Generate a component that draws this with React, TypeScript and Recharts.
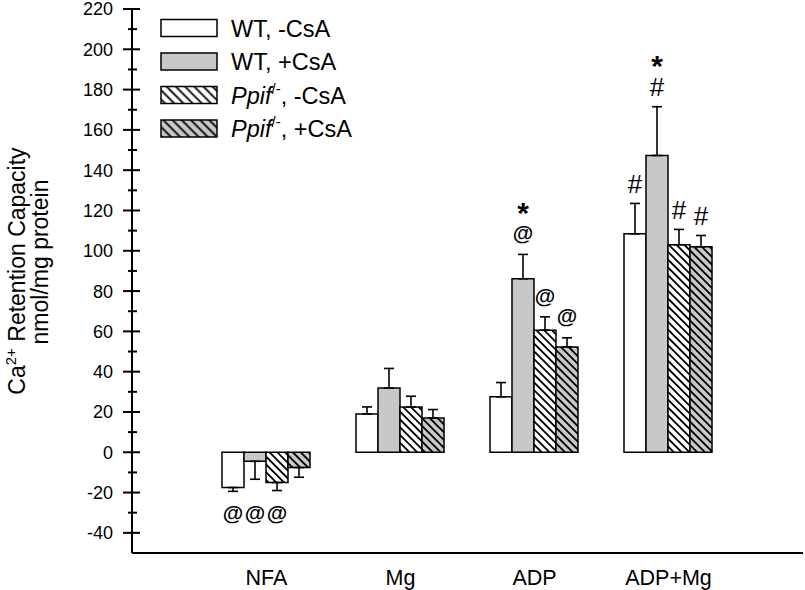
import React from 'react';
import { BarChart, Bar, XAxis, YAxis, ErrorBar, LabelList, Legend } from 'recharts';

const FONT = '"Liberation Sans", Arial, Helvetica, sans-serif';

const groups = ['NFA', 'Mg', 'ADP', 'ADP+Mg'];

const wtVals = [-17.5, 19.0, 27.5, 108.4];
const wtErr = [1.9, 3.5, 7.1, 15.1];
const wtCsaVals = [-4.5, 31.9, 86.1, 147.3];
const wtCsaErr = [8.9, 9.7, 12.1, 24.2];
const koVals = [-15.0, 22.5, 60.6, 103.0];
const koErr = [4.0, 5.3, 6.6, 7.6];
const koCsaVals = [-7.6, 17.0, 52.3, 102.0];
const koCsaErr = [4.8, 4.2, 4.5, 5.6];

// significance marks, listed from the bar outwards
const wtMarks = [['@'], [], [], ['#']];
const wtCsaMarks = [['@'], [], ['@', '*'], ['#', '*']];
const koMarks = [['@'], [], ['@'], ['#']];
const koCsaMarks = [[], [], ['@'], ['#']];

const yTicks = [-40, -30, -20, -10, 0, 10, 20, 30, 40, 50, 60, 70, 80, 90, 100, 110, 120, 130, 140, 150, 160, 170, 180, 190, 200, 210, 220];

const AXIS_X = 132;
const NEG_MARK_DEPTH = 31; // "@" under the NFA bars sit at this depth (data units)

type Series = {
  key: string;
  fill: string;
  legendFill: string;
  vals: number[];
  errs: number[];
  marks: string[][];
  label: React.ReactNode;
};

const ko = (suffix: string) => (
  <>
    <tspan fontStyle="italic">Ppif</tspan>
    <tspan dy={-10} fontSize={15}>/-</tspan>
    <tspan dy={10}>{suffix}</tspan>
  </>
);

const series: Series[] = [
  { key: 'wt', fill: '#ffffff', legendFill: '#ffffff', vals: wtVals, errs: wtErr, marks: wtMarks, label: 'WT, -CsA' },
  { key: 'wtCsa', fill: '#c8c8c8', legendFill: '#c8c8c8', vals: wtCsaVals, errs: wtCsaErr, marks: wtCsaMarks, label: 'WT, +CsA' },
  { key: 'ko', fill: 'url(#hatchW)', legendFill: 'url(#lgHatchW)', vals: koVals, errs: koErr, marks: koMarks, label: ko(', -CsA') },
  { key: 'koCsa', fill: 'url(#hatchG)', legendFill: 'url(#lgHatchG)', vals: koCsaVals, errs: koCsaErr, marks: koCsaMarks, label: ko(', +CsA') },
];

const data = groups.map((g, i) => {
  const row: any = { group: g };
  series.forEach((s) => {
    const v = s.vals[i];
    row[s.key] = v;
    row[s.key + 'Err'] = v < 0 ? [s.errs[i], 0] : [0, s.errs[i]];
  });
  return row;
});

const Hatch = ({ id, bg, size }: { id: string; bg: string; size: number }) => (
  <pattern id={id} patternUnits="userSpaceOnUse" width={size} height={size} patternTransform="rotate(-45)">
    <rect width={size} height={size} fill={bg} />
    <line x1={size / 2} y1={0} x2={size / 2} y2={size} stroke="#000" strokeWidth={1.8} />
  </pattern>
);

const glyphStyle = (ch: string) => {
  if (ch === '@') return { fs: 21, off: 0.27, weight: 'bold' };
  if (ch === '*') return { fs: 30, off: 0.56, weight: 'bold' };
  return { fs: 26, off: 0.35, weight: 'normal' };
};

// one <text> per bar, each mark a tspan stacked above the previous one
const MarkStack = ({ cx, centers, marks }: { cx: number; centers: number[]; marks: string[] }) => (
  <text textAnchor="middle" fontFamily={FONT} fill="#000">
    {marks.map((m, k) => {
      const st = glyphStyle(m);
      return (
        <tspan key={k} x={cx} y={centers[k] + st.off * st.fs} fontSize={st.fs} fontWeight={st.weight}>
          {m}
        </tspan>
      );
    })}
  </text>
);

const makeMarks = (s: Series) => (props: any) => {
  const { x, y, width, height, index } = props;
  const marks = s.marks[index];
  if (!marks || marks.length === 0) return null;
  const v = s.vals[index];
  const ratio = Math.abs(height) / Math.abs(v);
  const top = Math.min(y, y + height);
  const cx = x + width / 2;
  if (v < 0) {
    return <MarkStack cx={cx} marks={marks} centers={marks.map(() => top + NEG_MARK_DEPTH * ratio)} />;
  }
  const errTop = top - s.errs[index] * ratio;
  return <MarkStack cx={cx} marks={marks} centers={marks.map((_, k) => errTop - 20 - 28 * k)} />;
};

const YTick = (props: any) => {
  const { y, payload } = props;
  const major = payload.value % 20 === 0;
  return (
    <g>
      <line x1={major ? AXIS_X - 9 : AXIS_X - 4} x2={major ? AXIS_X + 8 : AXIS_X + 5} y1={y} y2={y} stroke="#000" strokeWidth={2} />
      {major && (
        <text x={113} y={y} dy="0.36em" textAnchor="end" fontSize={18} fontFamily={FONT} fill="#000">
          {payload.value}
        </text>
      )}
    </g>
  );
};

const YTitle = () => (
  <g fontFamily={FONT} fontSize={23} fill="#000">
    <text transform="translate(25, 271) rotate(-90)" textAnchor="middle">
      Ca<tspan dy={-9} fontSize={15}>2+</tspan><tspan dy={9}> Retention Capacity</tspan>
    </text>
    <text transform="translate(48, 262) rotate(-90)" textAnchor="middle">
      nmol/mg protein
    </text>
  </g>
);

const LegendBox = () => (
  <svg width={240} height={136} style={{ display: 'block', overflow: 'visible' }}>
    <defs>
      <Hatch id="lgHatchW" bg="#ffffff" size={6.5} />
      <Hatch id="lgHatchG" bg="#c8c8c8" size={6.5} />
    </defs>
    {series.map((s, i) => {
      const cy = 17 + i * 33.5;
      return (
        <g key={s.key}>
          <rect x={1} y={cy - 8.5} width={56} height={17} fill={s.legendFill} stroke="#000" strokeWidth={1.5} />
          <text x={71} y={cy + 8.5} fontSize={23.5} fontFamily={FONT} fill="#000">
            {s.label}
          </text>
        </g>
      );
    })}
  </svg>
);

export default function App() {
  return (
    <div style={{ position: 'absolute', left: 0, top: 0 }}>
      <BarChart
        width={805}
        height={590}
        data={data}
        margin={{ top: 9, right: 2, left: 0, bottom: 0 }}
        barCategoryGap={22.5}
        barGap={0}
        style={{ fontFamily: FONT }}
      >
        <defs>
          <Hatch id="hatchW" bg="#ffffff" size={5.5} />
          <Hatch id="hatchG" bg="#c8c8c8" size={5.5} />
        </defs>
        <XAxis
          dataKey="group"
          height={37}
          padding={{ left: 67.5, right: 67.5 }}
          axisLine={{ stroke: '#000', strokeWidth: 2 }}
          tickLine={false}
          tickSize={6}
          tickMargin={11}
          tick={{ fontSize: 21.5, fill: '#000', fontFamily: FONT }}
        />
        <YAxis
          width={AXIS_X}
          domain={[-50, 220]}
          ticks={yTicks}
          interval={0}
          allowDataOverflow
          axisLine={{ stroke: '#000', strokeWidth: 2 }}
          tickLine={false}
          tick={<YTick />}
          label={<YTitle />}
        />
        <Legend
          layout="horizontal"
          align="center"
          verticalAlign="middle"
          content={() => <LegendBox />}
          wrapperStyle={{ left: 160, top: 11, width: 240, height: 136 }}
        />
        {series.map((s) => (
          <Bar key={s.key} dataKey={s.key} fill={s.fill} stroke="#000" strokeWidth={1.5} isAnimationActive={false}>
            <ErrorBar dataKey={s.key + 'Err'} direction="y" width={5} stroke="#000" strokeWidth={1.6} />
            <LabelList dataKey={s.key} content={makeMarks(s)} />
          </Bar>
        ))}
      </BarChart>
    </div>
  );
}
